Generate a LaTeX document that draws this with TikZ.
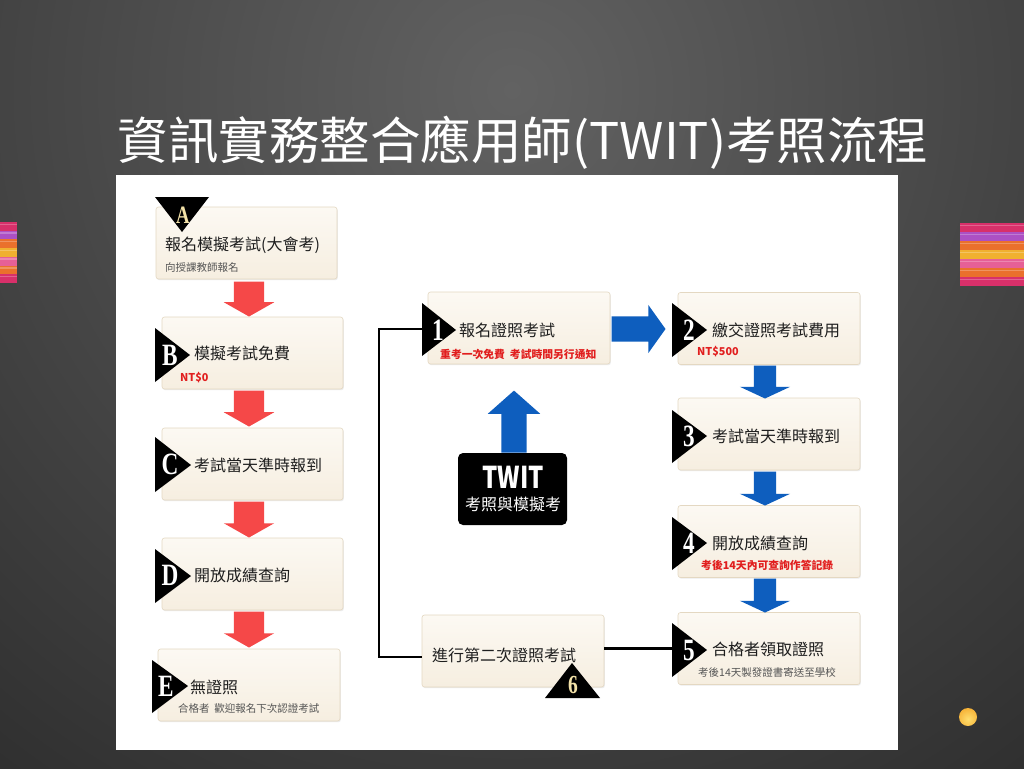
\documentclass[tikz,border=0pt]{standalone}
\usepackage{fontspec}
\setmainfont{Noto Sans CJK TC}
\newfontfamily\letfont{Liberation Serif}
\usetikzlibrary{shapes.arrows,shadows,calc}
\definecolor{bgin}{RGB}{98,98,98}
\definecolor{bgout}{RGB}{30,30,30}
\definecolor{creamT}{RGB}{252,249,243}
\definecolor{creamB}{RGB}{246,238,224}
\definecolor{boxline}{RGB}{228,216,194}
\definecolor{maintext}{RGB}{30,30,30}
\definecolor{subgray}{RGB}{85,85,85}
\definecolor{subred}{RGB}{225,30,30}
\definecolor{arrred}{RGB}{245,72,72}
\definecolor{arrblue}{RGB}{14,94,190}
\definecolor{letcream}{RGB}{243,226,168}
\definecolor{stpink}{RGB}{216,48,106}
\definecolor{stpurple}{RGB}{172,80,196}
\definecolor{storange}{RGB}{234,112,44}
\definecolor{styellow}{RGB}{240,176,48}
\definecolor{stpink2}{RGB}{230,96,150}
\definecolor{ballc}{RGB}{240,150,20}
\definecolor{ballin}{RGB}{255,222,110}
\begin{document}
\begin{tikzpicture}[x=1pt,y=-1pt,
  box/.style={draw=boxline, line width=0.6pt, rounded corners=2.5pt, top color=creamT, bottom color=creamB,
    minimum width=181pt, minimum height=72pt, inner sep=0pt,
    drop shadow={opacity=0.15, shadow xshift=0.8pt, shadow yshift=-1.2pt}},
  maintxt/.style={font=\fontsize{16}{16}\selectfont, text=maintext, inner sep=0pt, anchor=west},
  subtxt/.style={font=\fontsize{10.5}{10.5}\selectfont, text=subgray, inner sep=0pt, anchor=west},
  subredtxt/.style={font=\fontsize{10.8}{10.8}\selectfont\bfseries, text=subred, inner sep=0pt, anchor=west},
  tri/.style={fill=black},
  ltr/.style={font=\letfont\bfseries\fontsize{31}{31}\selectfont, text=white, inner sep=0pt, xscale=0.75},
  redarr/.style={single arrow, draw=none, fill=arrred, inner xsep=0pt, inner ysep=15pt,
    single arrow head extend=10pt, single arrow tip angle=121, minimum height=35pt},
  bluedn/.style={single arrow, draw=none, fill=arrblue, inner xsep=0pt, inner ysep=11pt,
    single arrow head extend=14pt, single arrow tip angle=130, minimum height=33pt},
  blueh/.style={single arrow, draw=none, fill=arrblue, inner xsep=0pt, inner ysep=12.5pt,
    single arrow head extend=11.5pt, single arrow tip angle=109, minimum height=54pt},
  blueup/.style={single arrow, draw=none, fill=arrblue, inner xsep=0pt, inner ysep=12.5pt,
    single arrow head extend=13.5pt, single arrow tip angle=97, minimum height=62pt},
  conn/.style={draw=black, line width=2.4pt}
]
\useasboundingbox (0,0) rectangle (1024,768);
% background
\begin{scope}
\clip (0,0) rectangle (1024,768);
\fill[bgout] (0,0) rectangle (1024,768);
\shade[inner color=bgin, outer color=bgout] (512,90) circle (1150);
\end{scope}
% side stripes
\foreach \c [count=\i from 0] in {stpink,stpurple,storange,styellow,stpink2,storange,stpink}{
  \fill[\c] (0,222+\i*8.7) rectangle (17,222+\i*8.7+8.7);
  \fill[white,opacity=0.25] (0,222+\i*8.7+1.5) rectangle (17,222+\i*8.7+3);
  \fill[\c] (960,223+\i*9) rectangle (1024,223+\i*9+9);
  \fill[white,opacity=0.25] (960,223+\i*9+1.5) rectangle (1024,223+\i*9+3);
}
\begin{scope}
\clip (968,717) circle (9);
\shade[inner color=ballin, outer color=ballc] (968,719) circle (18);
\end{scope}
% title
\node[font=\fontsize{50.5}{50.5}\selectfont, text=white, inner sep=0pt] (title) at (523,143) {資訊實務整合應用師(TWIT)考照流程};
% panel
\fill[white] (116,175) rectangle (898,750);

% left column boxes
\node[box] (A) at (246.5,243) {};
\node[box] (B) at (252.5,353) {};
\node[box] (C) at (252.5,464) {};
\node[box] (D) at (252.5,574) {};
\node[box, minimum width=182pt] (E) at (249,685) {};
% middle / right boxes
\node[box, minimum width=182pt] (B1) at (519,328) {};
\node[box, minimum width=182pt] (B2) at (769,328.5) {};
\node[box, minimum width=182pt] (B3) at (769,434) {};
\node[box, minimum width=182pt] (B4) at (769,541.5) {};
\node[box, minimum width=182pt] (B5) at (769,648.5) {};
\node[box, minimum width=182pt] (B6) at (513,651) {};
\node[fill=black, rounded corners=5pt, minimum width=109pt, minimum height=72pt, inner sep=0pt] (TW) at (512.5,489) {};

% texts
\node[maintxt] (tA) at (165,245) {報名模擬考試(大會考)};
\node[subtxt] (sA) at (165,268) {向授課教師報名};
\node[maintxt] (tB) at (194,353) {模擬考試免費};
\node[subredtxt] (sB) at (180,378) {NT\$0};
\node[maintxt] (tC) at (194,465) {考試當天準時報到};
\node[maintxt] (tD) at (194,575) {開放成績查詢};
\node[maintxt] (tE) at (190,687) {無證照};
\node[subtxt] (sE) at (178,708) {合格者\ \ 歡迎報名下次認證考試};
\node[maintxt] (t1) at (459,330) {報名證照考試};
\node[subredtxt] (s1) at (440,354) {重考一次免費\ \ 考試時間另行通知};
\node[maintxt] (t2) at (712,330) {繳交證照考試費用};
\node[subredtxt] (s2) at (697,352) {NT\$500};
\node[maintxt] (t3) at (712,436) {考試當天準時報到};
\node[maintxt] (t4) at (712,543) {開放成績查詢};
\node[subredtxt] (s4) at (701,565) {考後14天內可查詢作答記錄};
\node[maintxt] (t5) at (712,649) {合格者領取證照};
\node[subtxt] (s5) at (698,672) {考後14天製發證書寄送至學校};
\node[maintxt] (t6) at (432,655) {進行第二次證照考試};
\node[font=\bfseries\fontsize{30}{30}\selectfont, text=white, inner sep=0pt, xscale=0.8] (twt) at (513,477) {TWIT};
\node[font=\fontsize{16}{16}\selectfont, text=white, inner sep=0pt] (tws) at (513,504) {考照與模擬考};

% triangles and letters
\fill[tri] (155,197) -- (209,197) -- (182,232) -- cycle;
\node[ltr, text=letcream, font=\letfont\bfseries\fontsize{25}{25}\selectfont] (LA) at (183,215) {A};
\fill[tri] (155,328) -- (190,355) -- (155,382) -- cycle;
\node[ltr] (LB) at (170,355) {B};
\fill[tri] (155,437) -- (191,465) -- (155,492) -- cycle;
\node[ltr] (LC) at (170,464) {C};
\fill[tri] (155,549) -- (191,576) -- (155,603) -- cycle;
\node[ltr] (LD) at (170,575) {D};
\fill[tri] (152,660) -- (188,686) -- (152,713) -- cycle;
\node[ltr] (LE) at (166,686) {E};
\fill[tri] (422,303) -- (456,330) -- (422,356) -- cycle;
\node[ltr] (L1) at (438,330) {1};
\fill[tri] (672,303) -- (707,330) -- (672,357) -- cycle;
\node[ltr] (L2) at (689,330) {2};
\fill[tri] (672,410) -- (707,436) -- (672,463) -- cycle;
\node[ltr] (L3) at (689,436) {3};
\fill[tri] (672,517) -- (707,543) -- (672,570) -- cycle;
\node[ltr] (L4) at (689,543) {4};
\fill[tri] (672,623) -- (707,650) -- (672,677) -- cycle;
\node[ltr] (L5) at (689,650) {5};
\fill[tri] (545,698) -- (600,698) -- (572,663) -- cycle;
\node[ltr, text=letcream, font=\letfont\bfseries\fontsize{26}{26}\selectfont] (L6) at (573,685) {6};

% red arrows (left column)
\node[redarr, rotate=-90, anchor=tail] (rAB) at ($(A.south)+(2.5,2)$) {};
\node[redarr, rotate=-90, anchor=tail, minimum height=36pt] (rBC) at ($(B.south)+(-3.5,1)$) {};
\node[redarr, rotate=-90, anchor=tail, minimum height=36pt] (rCD) at ($(C.south)+(-3.5,1)$) {};
\node[redarr, rotate=-90, anchor=tail, minimum height=36pt] (rDE) at ($(D.south)+(-3.5,1)$) {};
% blue arrows
\node[blueh, anchor=tail] (b12) at ($(B1.east)+(1,1)$) {};
\node[blueup, rotate=90, anchor=tail] (bTW) at ($(TW.north)+(1.5,0)$) {};
\node[bluedn, rotate=-90, anchor=tail] (b23) at ($(B2.south)+(-4,0.5)$) {};
\node[bluedn, rotate=-90, anchor=tail, minimum height=34pt] (b34) at ($(B3.south)+(-4,1)$) {};
\node[bluedn, rotate=-90, anchor=tail, minimum height=34pt] (b45) at ($(B4.south)+(-4,0.5)$) {};

% connectors
\draw[conn] (B5.west) -- (B5.west -| B6.east);
\coordinate (in1) at ($(B1.west)+(-6,1)$);
\draw[conn] ($(B6.west)+(0,6)$) -| ($(B1.west)+(-49,1)$) -- (in1);
\end{tikzpicture}
\end{document}
